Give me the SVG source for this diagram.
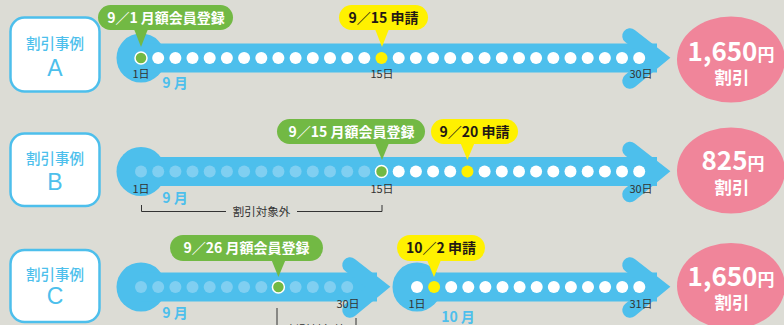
<svg xmlns="http://www.w3.org/2000/svg" width="784" height="325" viewBox="0 0 784 325">
<style>
text{font-family:"Noto Sans CJK JP","Noto Sans",sans-serif}
.box{fill:#fff;stroke:#4dbfec;stroke-width:2.5}
.boxt{fill:#4dbfec;font-size:14.5px;text-anchor:middle;font-weight:500}
.boxl{fill:#4dbfec;font-size:23px;text-anchor:middle;font-family:"Liberation Sans","DejaVu Sans",sans-serif}
.band{fill:#4dbfec}
.head{fill:none;stroke:#4dbfec;stroke-width:15.5;stroke-linecap:round;stroke-linejoin:miter;stroke-miterlimit:10}
.dw{fill:#fff}
.dl{fill:#80cff1}
.dg{fill:#72b944;stroke:#fff;stroke-width:1.5}
.dy{fill:#fff100}
.cg{fill:#72b944}
.cy{fill:#fff100}
.tg{fill:#fff;font-size:14px;font-weight:700;text-anchor:middle}
.ty{fill:#231815;font-size:14px;font-weight:700;text-anchor:middle}
.day{fill:#333;font-size:11px;text-anchor:middle}
.mon{fill:#4dbfec;font-size:14px;font-weight:700;text-anchor:middle}
.res{fill:#f0859a}
.big{fill:#fff;font-size:26px;font-weight:700;text-anchor:middle}
.yen{font-size:17px}
.wari{fill:#fff;font-size:17.5px;font-weight:700;text-anchor:middle}
.br{fill:none;stroke:#333;stroke-width:1}
.brt{fill:#333;font-size:11.5px;text-anchor:middle}
</style>
<rect width="784" height="325" fill="#dcdcd5"/>

<!-- Case A -->
<g id="case-a-label">
<rect class="box" x="10.5" y="17.5" width="89" height="74" rx="14"/>
<text class="boxt" x="55" y="49">割引事例</text>
<text class="boxl" x="55" y="76">A</text>
</g>
<g id="case-a-timeline">
<circle class="band" cx="141" cy="58" r="24.5"/>
<rect class="band" x="141" y="43.5" width="516" height="29"/>
<path class="head" d="M630,36 L658,58 L630,81"/>
<circle class="dg" cx="141" cy="58" r="6"/>
<circle class="dw" cx="158.2" cy="58" r="6"/><circle class="dw" cx="175.4" cy="58" r="6"/><circle class="dw" cx="192.5" cy="58" r="6"/><circle class="dw" cx="209.7" cy="58" r="6"/><circle class="dw" cx="226.9" cy="58" r="6"/><circle class="dw" cx="244.1" cy="58" r="6"/><circle class="dw" cx="261.3" cy="58" r="6"/><circle class="dw" cx="278.4" cy="58" r="6"/><circle class="dw" cx="295.6" cy="58" r="6"/><circle class="dw" cx="312.8" cy="58" r="6"/><circle class="dw" cx="330" cy="58" r="6"/><circle class="dw" cx="347.2" cy="58" r="6"/><circle class="dw" cx="364.3" cy="58" r="6"/>
<circle class="dy" cx="381.5" cy="58" r="6"/>
<circle class="dw" cx="398.7" cy="58" r="6"/><circle class="dw" cx="415.9" cy="58" r="6"/><circle class="dw" cx="433.1" cy="58" r="6"/><circle class="dw" cx="450.2" cy="58" r="6"/><circle class="dw" cx="467.4" cy="58" r="6"/><circle class="dw" cx="484.6" cy="58" r="6"/><circle class="dw" cx="501.8" cy="58" r="6"/><circle class="dw" cx="519" cy="58" r="6"/><circle class="dw" cx="536.1" cy="58" r="6"/><circle class="dw" cx="553.3" cy="58" r="6"/><circle class="dw" cx="570.5" cy="58" r="6"/><circle class="dw" cx="587.7" cy="58" r="6"/><circle class="dw" cx="604.9" cy="58" r="6"/><circle class="dw" cx="622" cy="58" r="6"/><circle class="dw" cx="639.2" cy="58" r="6"/>
<text class="day" x="141" y="77.5">1日</text>
<text class="day" x="382" y="77.5">15日</text>
<text class="day" x="641" y="77.5">30日</text>
<text class="mon" x="175" y="88">9 月</text>
</g>
<g id="case-a-callouts">
<rect class="cg" x="98" y="5" width="135" height="25" rx="12.5"/>
<path class="cg" d="M134,29 L148,29 L141,47 Z"/>
<text class="tg" x="166" y="22.5">9／1 月額会員登録</text>
<rect class="cy" x="339" y="5" width="89" height="25" rx="12.5"/>
<path class="cy" d="M375,29 L389,29 L382,47 Z"/>
<text class="ty" x="383.5" y="22.5">9／15 申請</text>
</g>
<g id="case-a-result">
<ellipse class="res" cx="731" cy="59.5" rx="54" ry="43"/>
<text class="big" x="731" y="61">1,650<tspan class="yen">円</tspan></text>
<text class="wari" x="732" y="83.5">割引</text>
</g>

<!-- Case B -->
<g id="case-b-label">
<rect class="box" x="10.5" y="133.5" width="89" height="72.5" rx="14"/>
<text class="boxt" x="55" y="164">割引事例</text>
<text class="boxl" x="55" y="190">B</text>
</g>
<g id="case-b-timeline">
<circle class="band" cx="141" cy="171.5" r="24.5"/>
<rect class="band" x="141" y="157" width="516" height="29"/>
<path class="head" d="M630,149.5 L658,171.5 L630,194.5"/>
<circle class="dl" cx="141" cy="171.5" r="6"/><circle class="dl" cx="158.2" cy="171.5" r="6"/><circle class="dl" cx="175.4" cy="171.5" r="6"/><circle class="dl" cx="192.5" cy="171.5" r="6"/><circle class="dl" cx="209.7" cy="171.5" r="6"/><circle class="dl" cx="226.9" cy="171.5" r="6"/><circle class="dl" cx="244.1" cy="171.5" r="6"/><circle class="dl" cx="261.3" cy="171.5" r="6"/><circle class="dl" cx="278.4" cy="171.5" r="6"/><circle class="dl" cx="295.6" cy="171.5" r="6"/><circle class="dl" cx="312.8" cy="171.5" r="6"/><circle class="dl" cx="330" cy="171.5" r="6"/><circle class="dl" cx="347.2" cy="171.5" r="6"/><circle class="dl" cx="364.3" cy="171.5" r="6"/>
<circle class="dg" cx="381.5" cy="171.5" r="6"/>
<circle class="dw" cx="398.7" cy="171.5" r="6"/><circle class="dw" cx="415.9" cy="171.5" r="6"/><circle class="dw" cx="433.1" cy="171.5" r="6"/><circle class="dw" cx="450.2" cy="171.5" r="6"/>
<circle class="dy" cx="467.4" cy="171.5" r="6"/>
<circle class="dw" cx="484.6" cy="171.5" r="6"/><circle class="dw" cx="501.8" cy="171.5" r="6"/><circle class="dw" cx="519" cy="171.5" r="6"/><circle class="dw" cx="536.1" cy="171.5" r="6"/><circle class="dw" cx="553.3" cy="171.5" r="6"/><circle class="dw" cx="570.5" cy="171.5" r="6"/><circle class="dw" cx="587.7" cy="171.5" r="6"/><circle class="dw" cx="604.9" cy="171.5" r="6"/><circle class="dw" cx="622" cy="171.5" r="6"/><circle class="dw" cx="639.2" cy="171.5" r="6"/>
<text class="day" x="141" y="192.5">1日</text>
<text class="day" x="382" y="192.5">15日</text>
<text class="day" x="641" y="192.5">30日</text>
<text class="mon" x="175" y="202.5">9 月</text>
</g>
<g id="case-b-callouts">
<rect class="cg" x="277" y="119" width="148" height="25" rx="12.5"/>
<path class="cg" d="M375,143 L389,143 L382,160 Z"/>
<text class="tg" x="351.5" y="136.5">9／15 月額会員登録</text>
<rect class="cy" x="431" y="119" width="87" height="25" rx="12.5"/>
<path class="cy" d="M460.5,143 L474.5,143 L467.4,160 Z"/>
<text class="ty" x="474.5" y="136.5">9／20 申請</text>
</g>
<g id="case-b-result">
<ellipse class="res" cx="731" cy="170.5" rx="54" ry="43"/>
<text class="big" x="733" y="170">825<tspan class="yen">円</tspan></text>
<text class="wari" x="732" y="193.5">割引</text>
</g>

<!-- Case C -->
<g id="case-c-label">
<rect class="box" x="10.5" y="250" width="89" height="72" rx="14"/>
<text class="boxt" x="55" y="280">割引事例</text>
<text class="boxl" x="55" y="304">C</text>
</g>
<g id="case-c-timeline-sep">
<circle class="band" cx="141" cy="287" r="24.5"/>
<rect class="band" x="141" y="272.5" width="236" height="29"/>
<path class="head" d="M350,265 L378,287 L350,310"/>
<circle class="dl" cx="141" cy="287" r="6"/><circle class="dl" cx="158.2" cy="287" r="6"/><circle class="dl" cx="175.4" cy="287" r="6"/><circle class="dl" cx="192.5" cy="287" r="6"/><circle class="dl" cx="209.7" cy="287" r="6"/><circle class="dl" cx="226.9" cy="287" r="6"/><circle class="dl" cx="244.1" cy="287" r="6"/><circle class="dl" cx="261.3" cy="287" r="6"/>
<circle class="dg" cx="278.4" cy="287" r="6"/>
<circle class="dl" cx="295.6" cy="287" r="6"/><circle class="dl" cx="312.8" cy="287" r="6"/><circle class="dl" cx="330" cy="287" r="6"/><circle class="dl" cx="347.2" cy="287" r="6"/>
<text class="day" x="348" y="308">30日</text>
<text class="mon" x="175" y="318">9 月</text>
</g>
<g id="case-c-timeline-oct">
<circle class="band" cx="417" cy="287" r="24.5"/>
<rect class="band" x="417" y="272.5" width="240" height="29"/>
<path class="head" d="M630,265 L658,287 L630,310"/>
<circle class="dw" cx="417" cy="287" r="6"/>
<circle class="dy" cx="434.1" cy="287" r="6"/>
<circle class="dw" cx="451.2" cy="287" r="6"/><circle class="dw" cx="468.3" cy="287" r="6"/><circle class="dw" cx="485.4" cy="287" r="6"/><circle class="dw" cx="502.5" cy="287" r="6"/><circle class="dw" cx="519.6" cy="287" r="6"/><circle class="dw" cx="536.7" cy="287" r="6"/><circle class="dw" cx="553.8" cy="287" r="6"/><circle class="dw" cx="570.9" cy="287" r="6"/><circle class="dw" cx="588" cy="287" r="6"/><circle class="dw" cx="605.1" cy="287" r="6"/><circle class="dw" cx="622.2" cy="287" r="6"/><circle class="dw" cx="639.3" cy="287" r="6"/>
<text class="day" x="417" y="308">1日</text>
<text class="day" x="641" y="308">31日</text>
<text class="mon" x="458" y="322">10 月</text>
</g>
<g id="case-c-callouts">
<rect class="cg" x="170" y="235" width="153" height="26" rx="13"/>
<path class="cg" d="M271.5,260 L285.5,260 L278.4,277 Z"/>
<text class="tg" x="246.5" y="253">9／26 月額会員登録</text>
<rect class="cy" x="397" y="235" width="88" height="26" rx="13"/>
<path class="cy" d="M427,260 L441,260 L434,277 Z"/>
<text class="ty" x="441" y="253">10／2 申請</text>
</g>
<g id="case-c-result">
<ellipse class="res" cx="731" cy="286" rx="54" ry="43"/>
<text class="big" x="731" y="286">1,650<tspan class="yen">円</tspan></text>
<text class="wari" x="732" y="308.5">割引</text>
</g>

<g id="connectors">
<path class="br" d="M141.5,205 V211.5 H226 M297,211.5 H382 V205"/>
<text class="brt" x="261.5" y="216">割引対象外</text>
<path class="br" d="M277,308 V330 M356,318 V330"/>
<text class="brt" x="316" y="334">割引対象外</text>
</g>
</svg>
